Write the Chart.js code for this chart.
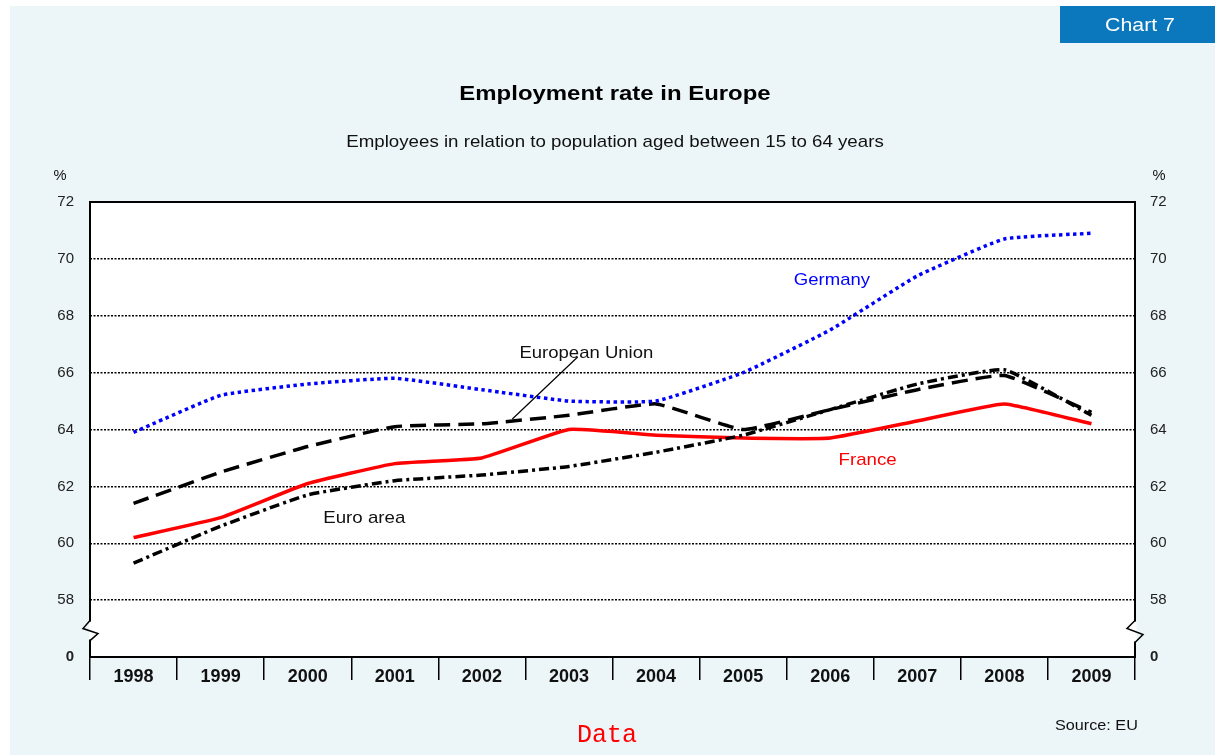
<!DOCTYPE html>
<html>
<head>
<meta charset="utf-8">
<script src="https://cdn.jsdelivr.net/npm/chart.js@4.4.0/dist/chart.umd.min.js"></script>
<style>
  html, body { margin: 0; padding: 0; background: #fff; }
  #wrap { width: 1215px; height: 755px; position: relative; }
</style>
</head>
<body>
<div id="wrap"><canvas id="employment" width="1215" height="755"></canvas></div>
<script>
const years = ['1998', '1999', '2000', '2001', '2002', '2003', '2004', '2005', '2006', '2007', '2008', '2009'];
const germany = [63.9, 65.2, 65.6, 65.8, 65.4, 65.0, 65.0, 66.0, 67.5, 69.4, 70.7, 70.9];
const france = [60.2, 60.9, 62.1, 62.8, 63.0, 64.0, 63.8, 63.7, 63.7, 64.3, 64.9, 64.2];
const europeanUnion = [61.4, 62.5, 63.4, 64.1, 64.2, 64.5, 64.9, 64.0, 64.7, 65.4, 65.9, 64.6];
const euroArea = [59.3, 60.6, 61.7, 62.2, 62.4, 62.7, 63.2, 63.8, 64.7, 65.6, 66.1, 64.5];
// axis is broken: the bottom tick (56) is labelled "0"
const yMin = 56;
const yMax = 72;
const yStep = 2;

const FONT = '"Liberation Sans", Arial, sans-serif';
const BG = '#ecf5f8';

function yLabel(v) {
  return v === yMin ? '0' : String(v);
}

// text in the original is a bit wider than the font, so stretch it
function wideText(ctx, text, x, y, sx, align) {
  ctx.save();
  ctx.translate(x, y);
  ctx.scale(sx, 1);
  ctx.textAlign = align || 'center';
  ctx.textBaseline = 'middle';
  ctx.fillText(text, 0, 0);
  ctx.restore();
}

// axis break zigzag on a vertical axis line
function breakMark(ctx, x, pts) {
  ctx.save();
  ctx.fillStyle = '#fff';
  ctx.fillRect(x - 1, pts[0][1] + 1, 2.5, pts[3][1] - pts[0][1] - 2);
  ctx.strokeStyle = '#000';
  ctx.lineWidth = 1.5;
  ctx.beginPath();
  ctx.moveTo(pts[0][0], pts[0][1]);
  for (let i = 1; i < pts.length; i++) ctx.lineTo(pts[i][0], pts[i][1]);
  ctx.stroke();
  ctx.restore();
}

const decor = {
  id: 'decor',
  beforeDraw(chart) {
    const ctx = chart.ctx;
    const a = chart.chartArea;
    ctx.save();
    ctx.fillStyle = '#fff';
    ctx.fillRect(0, 0, chart.width, chart.height);
    ctx.fillStyle = BG;
    ctx.fillRect(10, 6, chart.width - 10, chart.height - 6);
    ctx.fillStyle = '#fff';
    ctx.fillRect(a.left, a.top, a.right - a.left, a.bottom - a.top);

    // "Chart 7" tab
    ctx.fillStyle = '#0b78be';
    ctx.fillRect(1060, 6, 155, 37);
    ctx.fillStyle = '#fff';
    ctx.font = '19px ' + FONT;
    wideText(ctx, 'Chart 7', 1140, 26, 1.12);

    ctx.fillStyle = '#000';
    ctx.font = 'bold 21px ' + FONT;
    wideText(ctx, 'Employment rate in Europe', 615, 94, 1.14);
    ctx.fillStyle = '#111';
    ctx.font = '17px ' + FONT;
    wideText(ctx, 'Employees in relation to population aged between 15 to 64 years', 615, 142, 1.1);

    ctx.font = '14px ' + FONT;
    wideText(ctx, '%', 60, 176, 1.05);
    wideText(ctx, '%', 1159, 176, 1.05);

    ctx.fillStyle = '#ff0000';
    ctx.font = '25px "Liberation Mono", "Courier New", monospace';
    wideText(ctx, 'Data', 607, 735, 1);

    ctx.fillStyle = '#111';
    ctx.font = '15px ' + FONT;
    wideText(ctx, 'Source: EU', 1055, 726, 1.08, 'left');
    ctx.restore();
  },
  beforeDatasetsDraw(chart) {
    const ctx = chart.ctx;
    const a = chart.chartArea;
    ctx.save();
    ctx.strokeStyle = '#000';
    ctx.lineWidth = 2;
    ctx.strokeRect(a.left, a.top, a.right - a.left, a.bottom - a.top);
    ctx.restore();
  },
  afterDatasetsDraw(chart) {
    const ctx = chart.ctx;
    const x = chart.scales.x;
    const y = chart.scales.y;
    ctx.save();
    ctx.font = '17px ' + FONT;
    ctx.fillStyle = '#0000ff';
    wideText(ctx, 'Germany', x.getPixelForValue(8.02), y.getPixelForValue(69.23), 1.09);
    ctx.fillStyle = '#ff0000';
    wideText(ctx, 'France', x.getPixelForValue(8.43), y.getPixelForValue(62.9), 1.1);
    ctx.fillStyle = '#111';
    wideText(ctx, 'European Union', x.getPixelForValue(5.2), y.getPixelForValue(66.67), 1.09);
    wideText(ctx, 'Euro area', x.getPixelForValue(2.65), y.getPixelForValue(60.88), 1.1);
    // leader line to the EU series
    ctx.strokeStyle = '#000';
    ctx.lineWidth = 1.2;
    ctx.beginPath();
    ctx.moveTo(x.getPixelForValue(5.1), y.getPixelForValue(66.55));
    ctx.lineTo(x.getPixelForValue(4.35), y.getPixelForValue(64.37));
    ctx.stroke();
    ctx.restore();

    const a = chart.chartArea;
    const yb = y.getPixelForValue(57);
    breakMark(ctx, a.left, [[a.left, yb - 8], [a.left - 7, yb], [a.left + 8, yb + 5], [a.left, yb + 12]]);
    breakMark(ctx, a.right, [[a.right, yb - 8], [a.right - 8, yb], [a.right + 8, yb + 6], [a.right, yb + 14]]);
  }
};

const ctx = document.getElementById('employment');

new Chart(ctx, {
  type: 'line',
  data: {
    labels: years,
    datasets: [
      {
        label: 'Germany',
        data: germany,
        borderColor: '#0000ff',
        borderWidth: 3.5,
        borderDash: [3.5, 3.5],
        borderCapStyle: 'butt'
      },
      {
        label: 'European Union',
        data: europeanUnion,
        borderColor: '#000',
        borderWidth: 3.5,
        borderDash: [16, 8]
      },
      {
        label: 'Euro area',
        data: euroArea,
        borderColor: '#000',
        borderWidth: 3.5,
        borderDash: [10, 4, 3, 4]
      },
      {
        label: 'France',
        data: france,
        borderColor: '#ff0000',
        borderWidth: 3.5
      }
    ]
  },
  options: {
    responsive: false,
    animation: false,
    layout: { padding: { top: 202, left: 0, right: 0, bottom: 0 } },
    elements: {
      point: { radius: 0 },
      line: { tension: 0.12, fill: false }
    },
    scales: {
      x: {
        offset: true,
        afterFit: s => { s.height = 98; },
        grid: {
          offset: true,
          drawOnChartArea: false,
          drawTicks: true,
          tickLength: 23,
          color: '#000',
          lineWidth: 1.5
        },
        border: { display: false },
        ticks: {
          padding: -14,
          color: '#111',
          font: { family: FONT, size: 18, weight: 'bold' }
        }
      },
      y: {
        min: yMin,
        max: yMax,
        afterFit: s => { s.width = 90; },
        grid: {
          drawTicks: false,
          color: c => (c.tick.value === yMin || c.tick.value === yMax) ? 'rgba(0,0,0,0)' : '#000',
          lineWidth: 1.5
        },
        border: { display: false, dash: [2, 1.5] },
        ticks: {
          stepSize: yStep,
          padding: 16,
          color: '#222',
          callback: v => yLabel(v),
          font: c => ({ family: FONT, size: 15, weight: c.tick && c.tick.value === yMin ? 'bold' : 'normal' })
        }
      },
      y2: {
        position: 'right',
        min: yMin,
        max: yMax,
        afterFit: s => { s.width = 80; },
        grid: { drawOnChartArea: false, drawTicks: false },
        border: { display: false },
        ticks: {
          stepSize: yStep,
          padding: 15,
          color: '#222',
          callback: v => yLabel(v),
          font: c => ({ family: FONT, size: 15, weight: c.tick && c.tick.value === yMin ? 'bold' : 'normal' })
        }
      }
    },
    plugins: {
      legend: { display: false },
      tooltip: { enabled: false },
      title: { display: false }
    }
  },
  plugins: [decor]
});
</script>
</body>
</html>
